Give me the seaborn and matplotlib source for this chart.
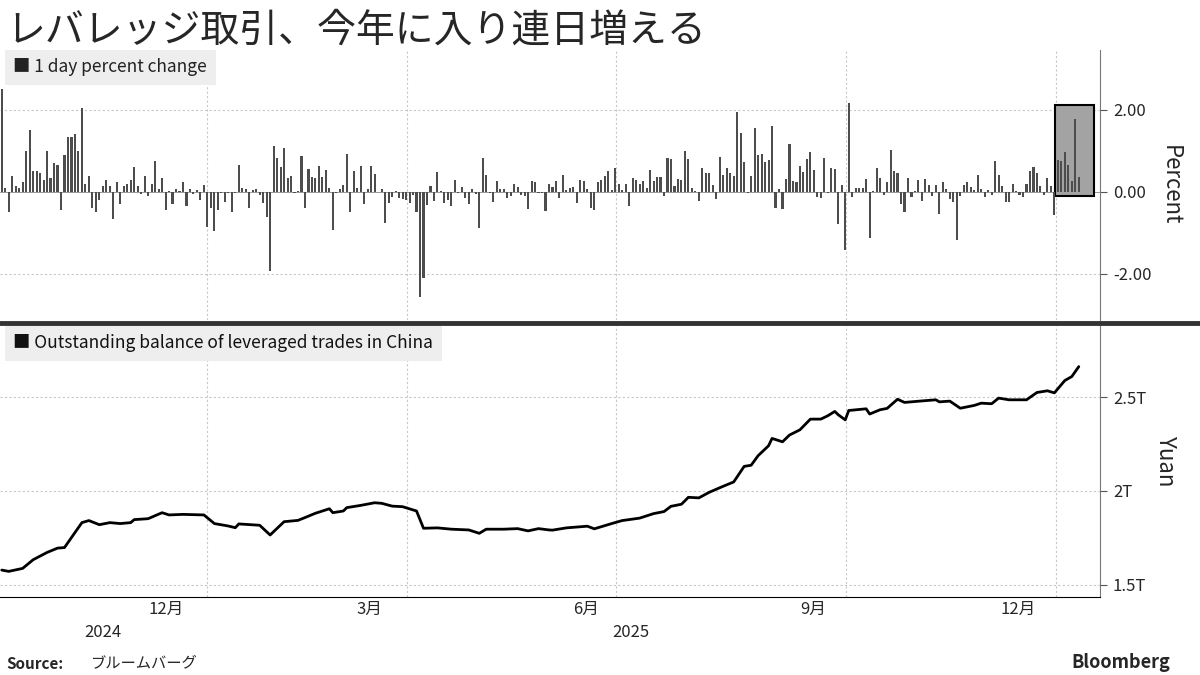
import numpy as np
import matplotlib
matplotlib.use("Agg")
import matplotlib.pyplot as plt
import seaborn as sns
from matplotlib.patches import Rectangle

sns.set_style("white")
plt.rcParams['font.family'] = ['Noto Sans CJK JP', 'DejaVu Sans']

# ---- data: 1 day percent change, one value per trading day ----
pct_q4_2024 = [2.5, 0.1, -0.5, 0.4, 0.15, 0.1, 0.25, 1.0, 1.5, 0.5,
               0.5, 0.45, 0.3, 1.0, 0.35, 0.7, 0.65, -0.45, 0.9, 1.35,
               1.35, 1.4, 1.0, 2.05, 0.2, 0.4, -0.4, -0.5, -0.2, 0.15,
               0.3, 0.15, -0.65, 0.25, -0.3, 0.15, 0.2, 0.3, 0.6, 0.15,
               -0.05, 0.4, -0.1, 0.2, 0.75, 0.07, 0.35, -0.45, 0.02, -0.3,
               0.07, 0.03, 0.25, -0.35, 0.07, -0.05, 0.05, -0.2, 0.17]
pct_q1_2025 = [-0.85, -0.4, -0.95, -0.45,
               -0.02, -0.25, -0.02, -0.5, -0.03, 0.65, 0.1, 0.07, -0.4, 0.05,
               0.07, -0.08, -0.28, -0.62, -1.93, 1.13, 0.83, 0.6, 1.07, 0.35,
               0.4, -0.03, 0.03, 0.87, -0.38, 0.56, 0.37, 0.35, 0.63, 0.37,
               0.53, 0.1, -0.93, -0.03, 0.08, 0.17, 0.92, -0.5, 0.5, 0.1,
               0.62, -0.3, 0.07, 0.63, 0.43, 0.0, 0.08, -0.75, -0.28, -0.13,
               0.03, -0.15, -0.18]
pct_q2_2025 = [-0.2, -0.27, -0.08, -0.48, -2.55,
               -2.1, -0.33, 0.15, -0.23, 0.48, 0.02, -0.28, -0.2, -0.35, 0.3,
               -0.02, 0.12, -0.15, -0.3, 0.07, -0.05, -0.88, 0.82, 0.42, -0.02,
               -0.25, 0.27, 0.07, 0.07, -0.15, -0.1, 0.2, 0.12, -0.07, -0.1,
               -0.42, 0.27, 0.25, -0.02, -0.03, -0.47, 0.2, 0.13, 0.27, -0.15,
               0.42, 0.05, 0.1, 0.12, -0.27, 0.3, 0.27, 0.07, -0.38, -0.45,
               0.25, 0.28, 0.4, 0.5, 0.05]
pct_q3_2025 = [0.58, 0.2, 0.05, 0.2, -0.35,
               0.35, 0.3, 0.2, 0.27, 0.1, 0.53, 0.27, 0.37, 0.37, -0.1,
               0.82, 0.8, 0.15, 0.32, 0.3, 1.0, 0.8, 0.1, 0.02, -0.23,
               0.58, 0.45, 0.47, 0.17, -0.18, 0.85, 0.42, 0.58, 0.45, 0.4,
               1.95, 1.43, 0.73, -0.03, 0.4, 1.55, 0.9, 0.92, 0.73, 0.78,
               1.6, -0.38, 0.08, -0.42, 0.32, 1.17, 0.27, 0.25, 0.63, 0.49,
               0.8, 0.97, 0.53, -0.12, -0.15, 0.82, -0.03, 0.58, 0.55, -0.78,
               0.17]
pct_q4_2025 = [-1.42, 2.17, -0.12, 0.1, 0.1, 0.1, 0.32, -1.12, 0.02, 0.58,
               0.35, -0.07, 0.25, 1.02, 0.5, 0.45, -0.3, -0.5, 0.35, -0.13,
               0.02, 0.3, -0.22, 0.32, 0.17, -0.1, 0.17, -0.55, 0.25, 0.08,
               -0.18, -0.25, -1.18, -0.1, 0.17, 0.25, 0.12, 0.05, 0.42, 0.08,
               -0.13, 0.05, -0.08, 0.75, 0.42, 0.15, -0.25, -0.25, 0.2, 0.02,
               -0.07, -0.12, 0.2, 0.5, 0.6, 0.45, 0.15, -0.08, 0.33, 0.15,
               -0.57]
pct_jan_2026 = [0.78, 0.75, 0.97, 0.65, 0.27, 1.77, 0.37]

# ---- data: outstanding balance (trillion yuan), sampled by trading-day number ----
bal_day = [0, 2, 6, 9, 13, 16, 18, 21, 23, 25, 28, 31, 34, 37, 38, 42, 46, 48, 52, 58,
           61, 65, 67, 68, 74, 77, 81, 85, 87, 90, 94, 95, 98, 99, 103, 107, 109, 112, 115, 119,
           121, 125, 129, 134, 137, 139, 144, 148, 151, 154, 157,
           158, 162, 168, 170, 175, 178, 183, 187, 190, 192, 195, 197, 200, 203, 207, 210,
           213, 215, 217, 220, 221, 224, 226, 229, 232, 235, 237, 239, 240, 242, 243, 248,
           249, 252, 254, 257, 259, 264, 268, 269, 272, 275, 279, 281, 284, 286, 289, 294,
           297, 300, 302, 305, 307, 309]
bal_val = [1.578, 1.571, 1.587, 1.633, 1.672, 1.695, 1.698, 1.778, 1.831, 1.842, 1.820, 1.831,
           1.826, 1.831, 1.847, 1.852, 1.884, 1.872, 1.875, 1.872, 1.826, 1.813, 1.804, 1.824,
           1.817, 1.765, 1.836, 1.843, 1.858, 1.881, 1.905, 1.884, 1.893, 1.911, 1.923, 1.937,
           1.934, 1.919, 1.916, 1.893, 1.801, 1.803, 1.796, 1.792, 1.774, 1.796, 1.796, 1.799,
           1.787, 1.799, 1.792,
           1.791, 1.803, 1.812, 1.798, 1.826, 1.842, 1.855, 1.879, 1.890, 1.918, 1.929, 1.966,
           1.963, 1.993, 2.025, 2.048, 2.131, 2.137, 2.188, 2.241, 2.280, 2.262, 2.298, 2.326,
           2.383, 2.383, 2.401, 2.424, 2.406, 2.379, 2.429, 2.438, 2.410, 2.433, 2.440, 2.489,
           2.472, 2.480, 2.486, 2.475, 2.479, 2.441, 2.456, 2.468, 2.465, 2.495, 2.486, 2.486,
           2.525, 2.534, 2.523, 2.589, 2.610, 2.663]

month_labels = ["12月", "3月", "6月", "9月", "12月"]
year_labels = ["2024", "2025"]

pct = pct_q4_2024 + pct_q1_2025 + pct_q2_2025 + pct_q3_2025 + pct_q4_2025 + pct_jan_2026
day = np.arange(len(pct))

# quarter starts (trading-day number) and label positions
quarter_start = [58.9, 116.2, 176.1, 242.2, 302.5]
month_pos = [47.3, 105.4, 167.6, 232.7, 291.7]
year_pos = [29, 180.5]
jan26 = len(pct) - len(pct_jan_2026)

fig = plt.figure(figsize=(12, 6.75), dpi=100)
ax1 = fig.add_axes([0, 0.526, 0.917, 0.4])
ax2 = fig.add_axes([0, 0.116, 0.917, 0.402])

grid_kw = dict(color="#c8c8c8", linestyle=(0, (2, 2)), linewidth=0.8, zorder=0)

# ---- top panel: bars ----
sns.barplot(x=day, y=pct, native_scale=True, color="#4d4d4d", saturation=1,
            width=0.6, errorbar=None, linewidth=0, ax=ax1, zorder=3)
ax1.add_patch(Rectangle((jan26 - 0.7, -0.1), 11.2, 2.22, facecolor="#a3a3a3",
                        edgecolor="black", linewidth=1.5, zorder=2))
ax1.set_ylim(-3.12, 3.46)
ax1.set_yticks([-2, 0, 2])
ax1.set_yticklabels(["-2.00", "0.00", "2.00"])
for y in [-2, 2]:
    ax1.axhline(y, **grid_kw)
ax1.axhline(0, color="#888888", linewidth=0.6, zorder=1)
ax1.set_ylabel("Percent", rotation=270, labelpad=22, fontsize=16)

# ---- bottom panel: line ----
sns.lineplot(x=bal_day, y=bal_val, color="black", linewidth=2, ax=ax2, zorder=3)
ax2.set_ylim(1.436, 2.883)
ax2.set_yticks([1.5, 2.0, 2.5])
ax2.set_yticklabels(["1.5T", "2T", "2.5T"])
for y in [1.5, 2.0, 2.5]:
    ax2.axhline(y, **grid_kw)
ax2.set_ylabel("Yuan", rotation=270, labelpad=22, fontsize=16)

for ax in (ax1, ax2):
    ax.set_xlim(-0.5, 315.2)
    for q in quarter_start:
        ax.axvline(q, **grid_kw)
    ax.yaxis.tick_right()
    ax.yaxis.set_label_position("right")
    ax.tick_params(axis="y", labelsize=12, length=5, color="#555555", pad=4)
    for s in ["top", "left", "bottom"]:
        ax.spines[s].set_visible(False)
    ax.spines["right"].set_color("#777777")
    ax.set_xlabel("")

ax1.set_xticks([])
ax2.spines["bottom"].set_visible(True)
ax2.spines["bottom"].set_color("black")
ax2.set_xticks(quarter_start)
ax2.set_xticklabels([""] * len(quarter_start))
ax2.tick_params(axis="x", length=6, color="black")
for p, lab in zip(month_pos, month_labels):
    ax2.text(p, -0.015, lab, transform=ax2.get_xaxis_transform(), ha="center", va="top", fontsize=12)
for p, lab in zip(year_pos, year_labels):
    ax2.text(p, -0.1, lab, transform=ax2.get_xaxis_transform(), ha="center", va="top", fontsize=12)

# legends
ax1.text(0.012, 0.935, "■ 1 day percent change", transform=ax1.transAxes, fontsize=12.5,
         color="#222222", va="center",
         bbox=dict(boxstyle="square,pad=0.5", facecolor="#eeeeee", edgecolor="none"))
ax2.text(0.012, 0.935, "■ Outstanding balance of leveraged trades in China", transform=ax2.transAxes,
         fontsize=12.5, color="#111111", va="center",
         bbox=dict(boxstyle="square,pad=0.5", facecolor="#eeeeee", edgecolor="none"))

# separator between panels
fig.add_artist(plt.Line2D([0, 1], [0.522, 0.522], color="#333333", linewidth=3.5))

# title and footer
fig.text(0.005, 0.955, "レバレッジ取引、今年に入り連日増える", fontsize=28, va="center")
fig.text(0.005, 0.005, "Source:", fontsize=11, fontweight="bold", va="bottom")
fig.text(0.075, 0.005, "ブルームバーグ", fontsize=11, va="bottom")
fig.text(0.975, 0.005, "Bloomberg", fontsize=13, fontweight="bold", va="bottom", ha="right")

fig.savefig("out.png", dpi=100)
